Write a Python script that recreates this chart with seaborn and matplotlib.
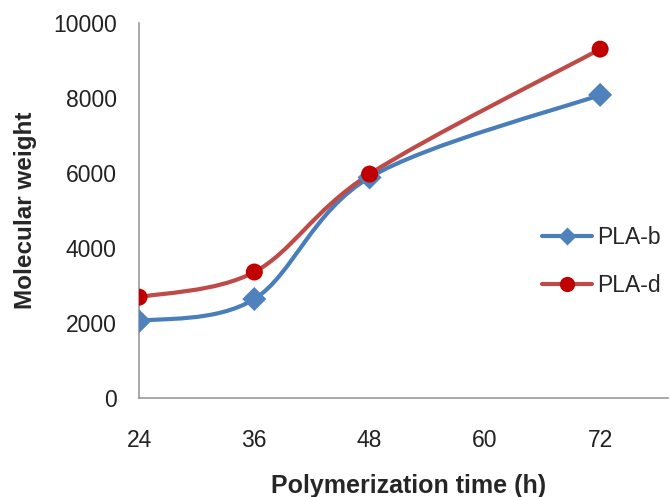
import numpy as np
import pandas as pd
import matplotlib.pyplot as plt
import seaborn as sns
from matplotlib.path import Path
from matplotlib.patches import PathPatch
from matplotlib.lines import Line2D

# --- Data ---
time_h = [24, 36, 48, 72]
pla_b = [2050, 2640, 5880, 8080]
pla_d = [2690, 3360, 5970, 9300]

series_names = ["PLA-b", "PLA-d"]
line_colors = {"PLA-b": "#4A7EBB", "PLA-d": "#BE4B48"}
marker_colors = {"PLA-b": "#4F81BD", "PLA-d": "#C00000"}
markers = {"PLA-b": "D", "PLA-d": "o"}

df = pd.DataFrame({
    "time": time_h * 2,
    "mw": pla_b + pla_d,
    "series": ["PLA-b"] * len(time_h) + ["PLA-d"] * len(time_h),
})

sns.set_style("white")
plt.rcParams["font.family"] = ["Liberation Sans", "DejaVu Sans"]


def smooth_path(x, y):
    # Excel-like smoothed line: Catmull-Rom segments as cubic Bezier curves
    pts = np.column_stack([x, y]).astype(float)
    ext = np.vstack([pts[0], pts, pts[-1]])
    verts = [pts[0]]
    codes = [Path.MOVETO]
    for i in range(len(pts) - 1):
        p0, p1, p2, p3 = ext[i], ext[i + 1], ext[i + 2], ext[i + 3]
        verts += [p1 + (p2 - p0) / 6, p2 - (p3 - p1) / 6, p2]
        codes += [Path.CURVE4] * 3
    return Path(verts, codes)


fig = plt.figure(figsize=(6.7, 4.97), dpi=100)
ax = fig.add_axes([0.2075, 0.199, 0.79, 0.755])

for name in series_names:
    sub = df[df["series"] == name]
    ax.add_patch(PathPatch(smooth_path(sub["time"], sub["mw"]), fill=False,
                           edgecolor=line_colors[name], lw=3, zorder=2))

sns.scatterplot(data=df, x="time", y="mw", hue="series", style="series",
                palette=marker_colors, markers=markers, s=150,
                edgecolor="none", legend=False, ax=ax, zorder=3)

ax.set_xlim(24, 79.1)
ax.set_ylim(0, 10000)
ax.set_xticks([24, 36, 48, 60, 72])
ax.set_yticks(range(0, 10001, 2000))
ax.tick_params(axis="both", length=0, labelsize=16.5, colors="#222222")
ax.tick_params(axis="x", pad=22)
ax.tick_params(axis="y", pad=16)

for side in ["top", "right"]:
    ax.spines[side].set_visible(False)
for side in ["left", "bottom"]:
    ax.spines[side].set_color("#9a9a9a")
    ax.spines[side].set_linewidth(1.2)

ax.set_xlabel("Polymerization time (h)", fontsize=18, fontweight="bold")
ax.set_ylabel("Molecular weight", fontsize=17.5, fontweight="bold")
ax.xaxis.set_label_coords(0.51, -0.203)
ax.yaxis.set_label_coords(-0.192, 0.5)

handles = [Line2D([], [], color=line_colors[n], lw=3, marker=markers[n],
                  markersize=11 if n == "PLA-d" else 9,
                  markerfacecolor=marker_colors[n], markeredgecolor="none")
           for n in series_names]
ax.legend(handles, series_names, loc="upper left",
          bbox_to_anchor=(542 / 670, 1 - 226 / 497),
          bbox_transform=fig.transFigure, borderpad=0, borderaxespad=0,
          frameon=False, fontsize=16.5, handlelength=2.2,
          handletextpad=0.2, labelspacing=1.1)

fig.savefig("out.png", dpi=100)
